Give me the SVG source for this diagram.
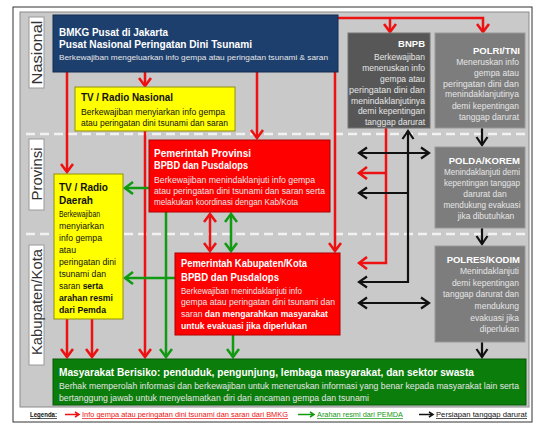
<svg xmlns="http://www.w3.org/2000/svg" width="537" height="426" viewBox="0 0 537 426">
<defs>
<style>
text{font-family:"Liberation Sans",Arial,sans-serif}
.b{font-weight:bold}
.w{fill:#ffffff}
.lw{fill:#e6e6e6}
.k{fill:#111111}
.lbl{fill:#333333;font-size:14px}
.r{stroke:#ee1111;stroke-width:2.5;fill:none}
.g{stroke:#139a13;stroke-width:2.5;fill:none}
.k2{stroke:#111111;stroke-width:2.2;fill:none}
.ra{marker-end:url(#mr)}
.ga{marker-end:url(#mg)}
.ka{marker-end:url(#mk)}
.dash{stroke:#f2f2f2;stroke-width:2.5;stroke-dasharray:9 5;fill:none}
.rt{text-anchor:end}
.ct{text-anchor:middle}
.sm{font-size:8.5px}
</style>
<marker id="mr" markerUnits="userSpaceOnUse" markerWidth="14" markerHeight="14" viewBox="0 0 14 14" refX="12" refY="7" orient="auto-start-reverse"><path d="M4,1 L12,7 L4,13" fill="none" stroke="#ee1111" stroke-width="2.6"/></marker>
<marker id="mg" markerUnits="userSpaceOnUse" markerWidth="14" markerHeight="14" viewBox="0 0 14 14" refX="12" refY="7" orient="auto-start-reverse"><path d="M4,1 L12,7 L4,13" fill="none" stroke="#139a13" stroke-width="2.6"/></marker>
<marker id="mk" markerUnits="userSpaceOnUse" markerWidth="14" markerHeight="14" viewBox="0 0 14 14" refX="12" refY="7" orient="auto-start-reverse"><path d="M4,1.5 L12,7 L4,12.5" fill="none" stroke="#111111" stroke-width="2.2"/></marker>
</defs>

<!-- frame -->
<rect x="13" y="7" width="519" height="415" fill="#ffffff" stroke="#333333" stroke-width="1"/>
<rect x="20" y="12" width="509" height="395" fill="#c9c9c9" stroke="#8a8a8a" stroke-width="1"/>

<!-- level dividers -->
<path class="dash" d="M26,134 H527 M26,234 H527"/>

<!-- level labels -->
<g id="label-nasional">
<rect x="29" y="17" width="15" height="71" fill="#ffffff" stroke="#9a9a9a"/>
<text class="lbl ct" transform="translate(41.5,52.5) rotate(-90)" textLength="64" lengthAdjust="spacingAndGlyphs">Nasional</text>
</g>
<g id="label-provinsi">
<rect x="29" y="139" width="15" height="71" fill="#ffffff" stroke="#9a9a9a"/>
<text class="lbl ct" transform="translate(41.5,174) rotate(-90)" textLength="53" lengthAdjust="spacingAndGlyphs">Provinsi</text>
</g>
<g id="label-kabupaten">
<rect x="29" y="245" width="15" height="120" fill="#ffffff" stroke="#9a9a9a"/>
<text class="lbl ct" transform="translate(41.5,302) rotate(-90)" textLength="106" lengthAdjust="spacingAndGlyphs">Kabupaten/Kota</text>
</g>

<!-- connectors -->
<g id="connectors">
<!-- red: BMKG info -->
<path class="r ra" d="M67,72 V172"/>
<path class="r ra" d="M145,72 V86"/>
<path class="r ra" d="M257,72 V138"/>
<path class="r ra" d="M335,60 V251"/>
<path class="r ra" d="M333,18 H483 V32"/>
<path class="r ra" d="M390,18 V32"/>
<path class="r ra" d="M145,131 V357"/>
<path class="r ra" d="M67,319 V357"/>
<path class="r ra" d="M92,319 V357"/>
<path class="r ra" d="M210,214 V251" marker-start="url(#mr)"/>
<path class="r ra" d="M386,128 V263 H359"/>
<path class="r ra" d="M386,173 H359"/>
<!-- green: arahan resmi -->
<path class="g ga" d="M149,188 H125"/>
<path class="g ga" d="M166,212 V357"/>
<path class="g ga" d="M175,278 H125"/>
<path class="g ga" d="M231,214 V251" marker-start="url(#mg)"/>
<path class="g ga" d="M233,335 V357"/>
<!-- black: persiapan tanggap darurat -->
<path class="k2 ka" d="M482,128 V145"/>
<path class="k2 ka" d="M482,228 V244"/>
<path class="k2 ka" d="M482,342 V357"/>
<path class="k2 ka" d="M359,282 H408 V131" marker-start="url(#mk)"/>
<path class="k2 ka" d="M408,193 H359"/>
<path class="k2 ka" d="M359,153 H429" marker-start="url(#mk)"/>
<path class="k2 ka" d="M359,303 H429" marker-start="url(#mk)"/>
</g>

<!-- BMKG -->
<g id="bmkg">
<rect x="53" y="15" width="285" height="57" fill="#1d3f6e" stroke="#142c4e"/>
<text class="w b" x="59" y="36" font-size="10.5" textLength="109" lengthAdjust="spacingAndGlyphs">BMKG Pusat di Jakarta</text>
<text class="w b" x="59" y="48" font-size="10.5" textLength="193" lengthAdjust="spacingAndGlyphs">Pusat Nasional Peringatan Dini Tsunami</text>
<text class="lw" x="59" y="60" font-size="8" textLength="269" lengthAdjust="spacingAndGlyphs">Berkewajiban mengeluarkan info gempa atau peringatan tsunami &amp; saran</text>
</g>

<!-- TV / Radio Nasional -->
<g id="tv-nasional">
<rect x="75" y="87" width="160" height="44" fill="#ffff00" stroke="#8f8f10"/>
<text class="k b" x="81" y="100.5" font-size="10" textLength="92" lengthAdjust="spacingAndGlyphs">TV / Radio Nasional</text>
<text class="k" x="81" y="115" font-size="8.5" textLength="144" lengthAdjust="spacingAndGlyphs">Berkewajiban menyiarkan info gempa</text>
<text class="k" x="81" y="126" font-size="8.5" textLength="147" lengthAdjust="spacingAndGlyphs">atau peringatan dini tsunami dan saran</text>
</g>

<!-- TV / Radio Daerah -->
<g id="tv-daerah">
<rect x="54" y="174" width="69" height="145" fill="#ffff00" stroke="#8f8f10"/>
<text class="k b" x="59" y="191" font-size="10" textLength="49" lengthAdjust="spacingAndGlyphs">TV / Radio</text>
<text class="k b" x="59" y="204" font-size="10" textLength="34" lengthAdjust="spacingAndGlyphs">Daerah</text>
<text class="k" x="59" y="217" font-size="8.5" textLength="41" lengthAdjust="spacingAndGlyphs">Berkewajiban</text>
<text class="k" x="59" y="229" font-size="8.5" textLength="45" lengthAdjust="spacingAndGlyphs">menyiarkan</text>
<text class="k" x="59" y="241" font-size="8.5" textLength="43" lengthAdjust="spacingAndGlyphs">info gempa</text>
<text class="k" x="59" y="253" font-size="8.5" textLength="17" lengthAdjust="spacingAndGlyphs">atau</text>
<text class="k" x="59" y="265" font-size="8.5" textLength="57" lengthAdjust="spacingAndGlyphs">peringatan dini</text>
<text class="k" x="59" y="277" font-size="8.5" textLength="47" lengthAdjust="spacingAndGlyphs">tsunami dan</text>
<text class="k" x="59" y="289" font-size="8.5">saran <tspan class="b">serta</tspan></text>
<text class="k b" x="59" y="301" font-size="8.5" textLength="54" lengthAdjust="spacingAndGlyphs">arahan resmi</text>
<text class="k b" x="59" y="313" font-size="8.5" textLength="47" lengthAdjust="spacingAndGlyphs">dari Pemda</text>
</g>

<!-- Pemerintah Provinsi -->
<g id="pemprov">
<rect x="149" y="140" width="181" height="72" fill="#ff0000" stroke="#b00000"/>
<text class="w b" x="154" y="157" font-size="11" textLength="97" lengthAdjust="spacingAndGlyphs">Pemerintah Provinsi</text>
<text class="w b" x="154" y="169" font-size="11" textLength="94" lengthAdjust="spacingAndGlyphs">BPBD dan Pusdalops</text>
<text class="lw" x="154" y="183" font-size="8.5" textLength="161" lengthAdjust="spacingAndGlyphs">Berkewajiban menindaklanjuti info gempa</text>
<text class="lw" x="154" y="194" font-size="8.5" textLength="171" lengthAdjust="spacingAndGlyphs">atau peringatan dini tsunami dan saran serta</text>
<text class="lw" x="154" y="205" font-size="8.5" textLength="144" lengthAdjust="spacingAndGlyphs">melakukan koordinasi dengan Kab/Kota</text>
</g>

<!-- Pemerintah Kabupaten/Kota -->
<g id="pemkab">
<rect x="175" y="253" width="165" height="82" fill="#ff0000" stroke="#b00000"/>
<text class="w b" x="181" y="267" font-size="11" textLength="126" lengthAdjust="spacingAndGlyphs">Pemerintah Kabupaten/Kota</text>
<text class="w b" x="181" y="281" font-size="11" textLength="98" lengthAdjust="spacingAndGlyphs">BPBD dan Pusdalops</text>
<text class="lw" x="181" y="294" font-size="8.5" textLength="121" lengthAdjust="spacingAndGlyphs">Berkewajiban menindaklanjuti info</text>
<text class="lw" x="181" y="305" font-size="8.5" textLength="154" lengthAdjust="spacingAndGlyphs">gempa atau peringatan dini tsunami dan</text>
<text class="lw" x="181" y="317" font-size="8.5" textLength="147" lengthAdjust="spacingAndGlyphs">saran <tspan class="w b">dan mengarahkan masyarakat</tspan></text>
<text class="w b" x="181" y="329" font-size="8.5" textLength="126" lengthAdjust="spacingAndGlyphs">untuk evakuasi jika diperlukan</text>
</g>

<!-- BNPB -->
<g id="bnpb">
<rect x="348" y="33" width="82" height="95" fill="#575757" stroke="#777777"/>
<text class="w b rt" x="425" y="46.5" font-size="9.5">BNPB</text>
<text class="lw rt sm" x="425" y="60">Berkewajiban</text>
<text class="lw rt sm" x="425" y="71">meneruskan info</text>
<text class="lw rt sm" x="425" y="82">gempa atau</text>
<text class="lw rt sm" x="425" y="93" textLength="76" lengthAdjust="spacingAndGlyphs">peringatan dini dan</text>
<text class="lw rt sm" x="425" y="103.5" textLength="74" lengthAdjust="spacingAndGlyphs">menindaklanjutinya</text>
<text class="lw rt sm" x="425" y="114">demi kepentingan</text>
<text class="lw rt sm" x="425" y="125">tanggap darurat</text>
</g>

<!-- POLRI/TNI -->
<g id="polri-tni">
<rect x="435" y="33" width="90" height="95" fill="#7d7d7d" stroke="#999999"/>
<text class="w b rt" x="520" y="53.5" font-size="9.5">POLRI/TNI</text>
<text class="lw rt sm" x="519" y="65">Meneruskan info</text>
<text class="lw rt sm" x="519" y="76">gempa atau</text>
<text class="lw rt sm" x="519" y="86.5" textLength="76" lengthAdjust="spacingAndGlyphs">peringatan dini dan</text>
<text class="lw rt sm" x="519" y="97" textLength="74" lengthAdjust="spacingAndGlyphs">menindaklanjutinya</text>
<text class="lw rt sm" x="519" y="109">demi kepentingan</text>
<text class="lw rt sm" x="519" y="120">tanggap darurat</text>
</g>

<!-- POLDA/KOREM -->
<g id="polda-korem">
<rect x="435" y="147" width="90" height="81" fill="#7d7d7d" stroke="#999999"/>
<text class="w b rt" x="520" y="163.5" font-size="9.5">POLDA/KOREM</text>
<text class="lw ct sm" x="482" y="175" textLength="76" lengthAdjust="spacingAndGlyphs">Menindaklanjuti demi</text>
<text class="lw ct sm" x="482" y="186" textLength="76" lengthAdjust="spacingAndGlyphs">kepentingan tanggap</text>
<text class="lw ct sm" x="485" y="197">darurat dan</text>
<text class="lw ct sm" x="482" y="208" textLength="77" lengthAdjust="spacingAndGlyphs">mendukung evakuasi</text>
<text class="lw ct sm" x="486" y="218.5">jika dibutuhkan</text>
</g>

<!-- POLRES/KODIM -->
<g id="polres-kodim">
<rect x="435" y="246" width="90" height="96" fill="#7d7d7d" stroke="#999999"/>
<text class="w b rt" x="520" y="262.5" font-size="9.5">POLRES/KODIM</text>
<text class="lw rt sm" x="519" y="274">Menindaklanjuti</text>
<text class="lw rt sm" x="519" y="286">demi kepentingan</text>
<text class="lw rt sm" x="519" y="297" textLength="76" lengthAdjust="spacingAndGlyphs">tanggap darurat dan</text>
<text class="lw rt sm" x="519" y="309">mendukung</text>
<text class="lw rt sm" x="519" y="321">evakuasi jika</text>
<text class="lw rt sm" x="519" y="332">diperlukan</text>
</g>

<!-- Masyarakat Berisiko -->
<g id="masyarakat">
<rect x="53" y="359" width="473" height="46" fill="#0b7d0b" stroke="#065806"/>
<text class="w b" x="59" y="376" font-size="11.5" textLength="415" lengthAdjust="spacingAndGlyphs">Masyarakat Berisiko: penduduk, pengunjung, lembaga masyarakat, dan sektor swasta</text>
<text class="lw" x="59" y="388.5" font-size="8.5" textLength="460" lengthAdjust="spacingAndGlyphs">Berhak memperolah informasi dan berkewajiban untuk meneruskan informasi yang benar kepada masyarakat lain serta</text>
<text class="lw" x="59" y="401" font-size="8.5" textLength="310" lengthAdjust="spacingAndGlyphs">bertanggung jawab untuk menyelamatkan diri dari ancaman gempa dan tsunami</text>
</g>

<!-- legend -->
<g id="legend">
<text x="30" y="417" font-size="7" class="k b" text-decoration="underline" textLength="27" lengthAdjust="spacingAndGlyphs">Legenda:</text>
<path d="M65,414.5 H78" stroke="#ee1111" stroke-width="1.5" fill="none"/>
<path d="M75,412 L79,414.5 L75,417" stroke="#ee1111" stroke-width="1.5" fill="none"/>
<text x="82" y="417" font-size="7" fill="#ee1111" text-decoration="underline" textLength="206" lengthAdjust="spacingAndGlyphs">Info gempa atau peringatan dini tsunami dan saran dari BMKG</text>
<path d="M298,414.5 H313" stroke="#139a13" stroke-width="1.5" fill="none"/>
<path d="M310,412 L314,414.5 L310,417" stroke="#139a13" stroke-width="1.5" fill="none"/>
<text x="317" y="417" font-size="7" fill="#139a13" text-decoration="underline" textLength="86" lengthAdjust="spacingAndGlyphs">Arahan resmi dari PEMDA</text>
<path d="M419,414.5 H432" stroke="#111111" stroke-width="1.5" fill="none"/>
<path d="M429,412 L433,414.5 L429,417" stroke="#111111" stroke-width="1.5" fill="none"/>
<text x="436" y="417" font-size="7" class="k" text-decoration="underline" textLength="91" lengthAdjust="spacingAndGlyphs">Persiapan tanggap darurat</text>
</g>
</svg>
